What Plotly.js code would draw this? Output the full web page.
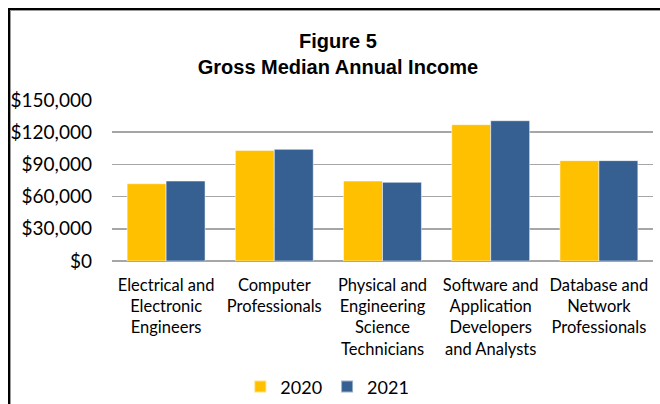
<!DOCTYPE html>
<html>
<head>
<meta charset="utf-8">
<script src="https://cdn.plot.ly/plotly-3.0.1.min.js"></script>
<style>
html,body{margin:0;padding:0;background:#fff;}
#wrap{position:relative;width:660px;height:404px;overflow:hidden;}
#frame{position:absolute;left:8px;top:8px;width:700px;height:450px;border-left:2px solid #000;border-top:2px solid #000;box-shadow:inset 1px 1px 0 #9a9a9a;pointer-events:none;z-index:2;}
#chart{position:absolute;left:0;top:0;width:660px;height:404px;}
</style>
</head>
<body>
<div id="wrap"><div id="chart"></div><div id="frame"></div></div>
<script>
const categories = [
  "Electrical and<br>Electronic<br>Engineers",
  "Computer<br>Professionals",
  "Physical and<br>Engineering<br>Science<br>Technicians",
  "Software and<br>Application<br>Developers<br>and Analysts",
  "Database and<br>Network<br>Professionals"
];
const values2020 = [72000, 103000, 74500, 127000, 93500];
const values2021 = [74500, 104000, 73300, 130700, 93500];
const tickVals = [0, 30000, 60000, 90000, 120000, 150000];
const tickText = ["$0", "$30,000", "$60,000", "$90,000", "$120,000", "$150,000"];

const fam = "Lato, 'Open Sans', sans-serif";

const data = [
  {type: "bar", name: "2020", x: categories, y: values2020,
   marker: {color: "#FFC000", line: {color: "rgba(255,255,255,0.5)", width: 1}}},
  {type: "bar", name: "2021", x: categories, y: values2021,
   marker: {color: "#366092", line: {color: "rgba(255,255,255,0.5)", width: 1}}}
];

const layout = {
  width: 660, height: 404,
  margin: {l: 112, r: 7, t: 100, b: 143, autoexpand: false},
  paper_bgcolor: "#fff", plot_bgcolor: "#fff",
  barmode: "group", bargap: 0.28, bargroupgap: 0,
  title: {
    text: "<b>Figure 5</b><br><b>Gross Median Annual Income</b>",
    font: {family: "'Liberation Sans', Arial, sans-serif", size: 20, color: "#000"},
    x: 0.512, xref: "container", xanchor: "center",
    y: 0.882, yref: "container", yanchor: "middle"
  },
  xaxis: {
    tickfont: {family: fam, size: 16.5, color: "#000"}, showgrid: false, showline: false, ticks: "",
    ticklabelstandoff: 12, fixedrange: true, automargin: false
  },
  yaxis: {
    range: [0, 150000], tickvals: tickVals, ticktext: tickText,
    tickfont: {family: fam, size: 19, color: "#000"},
    showgrid: true, gridcolor: "#a6a6a6", gridwidth: 1.5,
    zeroline: true, zerolinecolor: "#a6a6a6", zerolinewidth: 1.5,
    showline: false, ticks: "", ticklabelstandoff: 19, fixedrange: true, automargin: false
  },
  legend: {
    orientation: "h", x: 0.398, xanchor: "center", y: -0.782, yanchor: "middle",
    font: {family: fam, size: 18, color: "#000"},
    itemwidth: 30, itemsizing: "constant", traceorder: "normal"
  },
  showlegend: true
};

Plotly.newPlot("chart", data, layout, {displayModeBar: false, staticPlot: true});
</script>
</body>
</html>
